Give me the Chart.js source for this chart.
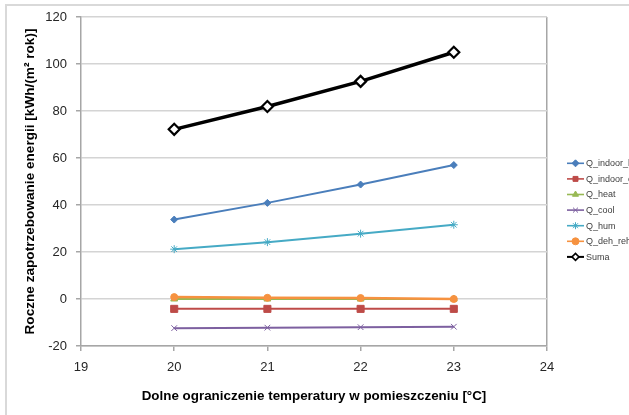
<!DOCTYPE html>
<html>
<head>
<meta charset="utf-8">
<script src="https://cdn.jsdelivr.net/npm/chart.js@4/dist/chart.umd.min.js"></script>
<style>
  html, body { margin: 0; padding: 0; background: #fff; overflow: hidden; }
  #wrap { position: relative; width: 629px; height: 415px; }
  #frame { position: absolute; left: 5px; top: 4px; width: 700px; height: 500px;
           border-left: 2px solid #d9d9d9; border-top: 2px solid #d9d9d9; }
  canvas { position: absolute; left: 0; top: 0; }
</style>
</head>
<body>
<div id="wrap">
  <div id="frame"></div>
  <canvas id="c" width="629" height="415"></canvas>
</div>
<script>
// Lower indoor temperature limit [°C]
const temperatures = [20, 21, 22, 23];

// Annual energy demand per series [kWh/(m² rok)]
const qIndoorH = [33.8, 40.9, 48.7, 57.0];
const qIndoorC = [-4.2, -4.2, -4.2, -4.2];
const qHeat    = [0.0, 0.0, 0.0, 0.0];
const qCool    = [-12.4, -12.2, -12.0, -11.8];
const qHum     = [21.2, 24.2, 27.8, 31.6];
const qDehReh  = [0.8, 0.5, 0.4, 0.0];
const suma     = [72.2, 81.9, 92.6, 105.0];

const seriesNames = ['Q_indoor_h', 'Q_indoor_c', 'Q_heat', 'Q_cool', 'Q_hum', 'Q_deh_reh', 'Suma'];
const seriesValues = [qIndoorH, qIndoorC, qHeat, qCool, qHum, qDehReh, suma];

const yTicks = [-20, 0, 20, 40, 60, 80, 100, 120];
const xTicks = [19, 20, 21, 22, 23, 24];

const styles = [
  { line: '#4A7EBB', fill: '#4A7EBB', point: 'rectRot',  r: 3.5, pw: 1, lw: 2 },
  { line: '#BE4B48', fill: '#BE4B48', point: 'rect',     r: 5,   pw: 1, lw: 2 },
  { line: '#98B954', fill: '#98B954', point: 'triangle', r: 4,   pw: 1, lw: 2 },
  { line: '#7D60A0', fill: '#7D60A0', point: 'crossRot', r: 4,   pw: 1, lw: 2 },
  { line: '#46AAC5', fill: '#46AAC5', point: 'star',     r: 4,   pw: 1, lw: 2 },
  { line: '#F69240', fill: '#F69240', point: 'circle',   r: 3.5, pw: 1, lw: 2.5 },
  { line: '#000000', fill: '#ffffff', point: 'rectRot',  r: 5.5, pw: 2.2, lw: 3.5 }
];

const datasets = seriesNames.map((name, i) => ({
  label: name,
  data: temperatures.map((t, k) => ({ x: t, y: seriesValues[i][k] })),
  borderColor: styles[i].line,
  backgroundColor: styles[i].fill,
  borderWidth: styles[i].lw,
  pointStyle: styles[i].point,
  pointRadius: styles[i].r,
  pointBorderColor: i === 6 ? '#000' : styles[i].line,
  pointBackgroundColor: styles[i].fill,
  pointBorderWidth: styles[i].pw,
  tension: 0,
  order: seriesNames.length - i
}));

// Legend drawn as line + marker entries, in series order
const lineLegend = {
  id: 'lineLegend',
  afterDraw(chart) {
    const ctx = chart.ctx;
    const x0 = 567, x1 = 584, top = 163.3, step = 15.6;
    ctx.save();
    chart.data.datasets.forEach((ds, i) => {
      const y = top + i * step;
      ctx.strokeStyle = ds.borderColor;
      ctx.lineWidth = i === 6 ? 2 : 1.6;
      ctx.beginPath();
      ctx.moveTo(x0, y);
      ctx.lineTo(x1, y);
      ctx.stroke();
      ctx.fillStyle = ds.pointBackgroundColor;
      ctx.strokeStyle = ds.pointBorderColor;
      ctx.lineWidth = i === 6 ? 1.5 : 1;
      Chart.helpers.drawPoint(ctx, {
        pointStyle: ds.pointStyle,
        radius: i === 6 ? 3.5 : Math.min(ds.pointRadius, 3.5),
        rotation: 0,
        borderWidth: ctx.lineWidth
      }, (x0 + x1) / 2, y);
      ctx.fillStyle = '#404040';
      ctx.font = '9px "Liberation Sans", Arial, sans-serif';
      ctx.textBaseline = 'middle';
      ctx.textAlign = 'left';
      ctx.fillText(ds.label, x1 + 2, y + 0.5);
    });
    ctx.restore();
  }
};

const axisGray = '#a6a6a6';
const gridGray = '#d4d4d4';
const fontFamily = '"Liberation Sans", Arial, sans-serif';

new Chart(document.getElementById('c'), {
  type: 'line',
  data: { datasets },
  plugins: [lineLegend],
  options: {
    responsive: false,
    animation: false,
    events: [],
    layout: { padding: { left: 0, top: 17, right: 82, bottom: 0 } },
    plugins: { legend: { display: false }, tooltip: { enabled: false } },
    scales: {
      x: {
        type: 'linear',
        min: xTicks[0],
        max: xTicks[xTicks.length - 1],
        afterBuildTicks(scale) { scale.ticks = xTicks.map(v => ({ value: v })); },
        afterFit(scale) { scale.height = 69; },
        grid: {
          color: c => (c.tick && c.tick.value === 24) ? axisGray : 'rgba(0,0,0,0)',
          lineWidth: 1.5,
          tickColor: axisGray,
          tickLength: 5,
          drawOnChartArea: true
        },
        border: { color: axisGray, width: 1.5 },
        ticks: {
          color: '#262626',
          font: { family: fontFamily, size: 13 },
          padding: 9,
          maxRotation: 0
        },
        title: {
          display: true,
          text: 'Dolne ograniczenie temperatury w pomieszczeniu [°C]',
          color: '#000',
          font: { family: fontFamily, size: 13.4, weight: 'bold' },
          padding: { top: 0, bottom: 11 }
        }
      },
      y: {
        type: 'linear',
        min: yTicks[0],
        max: yTicks[yTicks.length - 1],
        afterBuildTicks(scale) { scale.ticks = yTicks.map(v => ({ value: v })); },
        afterFit(scale) { scale.width = 81; },
        grid: {
          color: gridGray,
          lineWidth: 1.5,
          tickColor: axisGray,
          tickLength: 5
        },
        border: { color: axisGray, width: 1.5 },
        ticks: {
          color: '#262626',
          font: { family: fontFamily, size: 13 },
          padding: 9
        },
        title: {
          display: true,
          text: 'Roczne zapotrzebowanie energii [kWh/(m² rok)]',
          color: '#000',
          font: { family: fontFamily, size: 13.6, weight: 'bold' },
          padding: { top: 22, bottom: 0 }
        }
      }
    }
  }
});
</script>
</body>
</html>
